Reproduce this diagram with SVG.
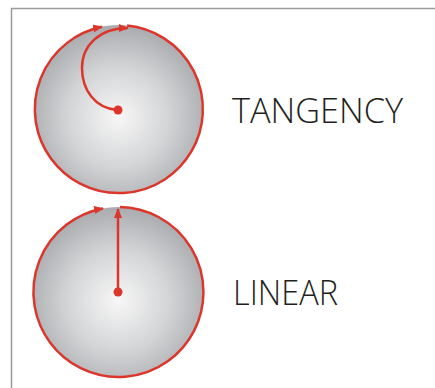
<svg xmlns="http://www.w3.org/2000/svg" width="435" height="388" viewBox="0 0 435 388">
<defs>
<radialGradient id="ball" cx="0.5" cy="0.55" r="0.55">
<stop offset="0" stop-color="#f7f7f7"/>
<stop offset="0.55" stop-color="#d3d4d6"/>
<stop offset="1" stop-color="#a9abae"/>
</radialGradient>
<marker id="arr" markerUnits="userSpaceOnUse" markerWidth="10" markerHeight="8" refX="9" refY="4" orient="auto">
<path d="M0,0 L10,4 L0,8 z" fill="#dc362c"/>
</marker>
<style>
.ball{fill:url(#ball);}
.red{fill:none;stroke:#dc362c;stroke-width:2.5;}
.dot{fill:#dc362c;}
.lbl{font-family:"Open Sans","Liberation Sans",Arial,sans-serif;font-weight:300;font-size:34px;fill:#231f20;}
</style>
</defs>
<rect width="435" height="388" fill="#ffffff"/>
<path d="M11.5,388 V8.5 H435" fill="none" stroke="#9a9a9a" stroke-width="1.5"/>
<g id="tangency-ball">
<circle class="ball" cx="118" cy="109" r="84"/>
<circle class="dot" cx="118" cy="110" r="4.5"/>
</g>
<g id="linear-ball">
<circle class="ball" cx="118" cy="292" r="85"/>
<circle class="dot" cx="118" cy="292" r="4.5"/>
</g>
<g id="connectors">
<path class="red" d="M127.1,25.5 A84,84 0 1 1 102,26.8" marker-end="url(#arr)"/>
<path class="red" d="M117,110 C95,108 82,90 82,68 C82,45 100,28 128,28" marker-end="url(#arr)"/>
<path class="red" d="M120,207 A85,85 0 1 1 103,208.4" marker-end="url(#arr)"/>
<path class="red" d="M118,292 V209" marker-end="url(#arr)"/>
</g>
<g id="label-tangency">
<text class="lbl" x="232" y="123" textLength="171" lengthAdjust="spacingAndGlyphs">TANGENCY</text>
</g>
<g id="label-linear">
<text class="lbl" x="233" y="305" textLength="105" lengthAdjust="spacingAndGlyphs">LINEAR</text>
</g>
</svg>
